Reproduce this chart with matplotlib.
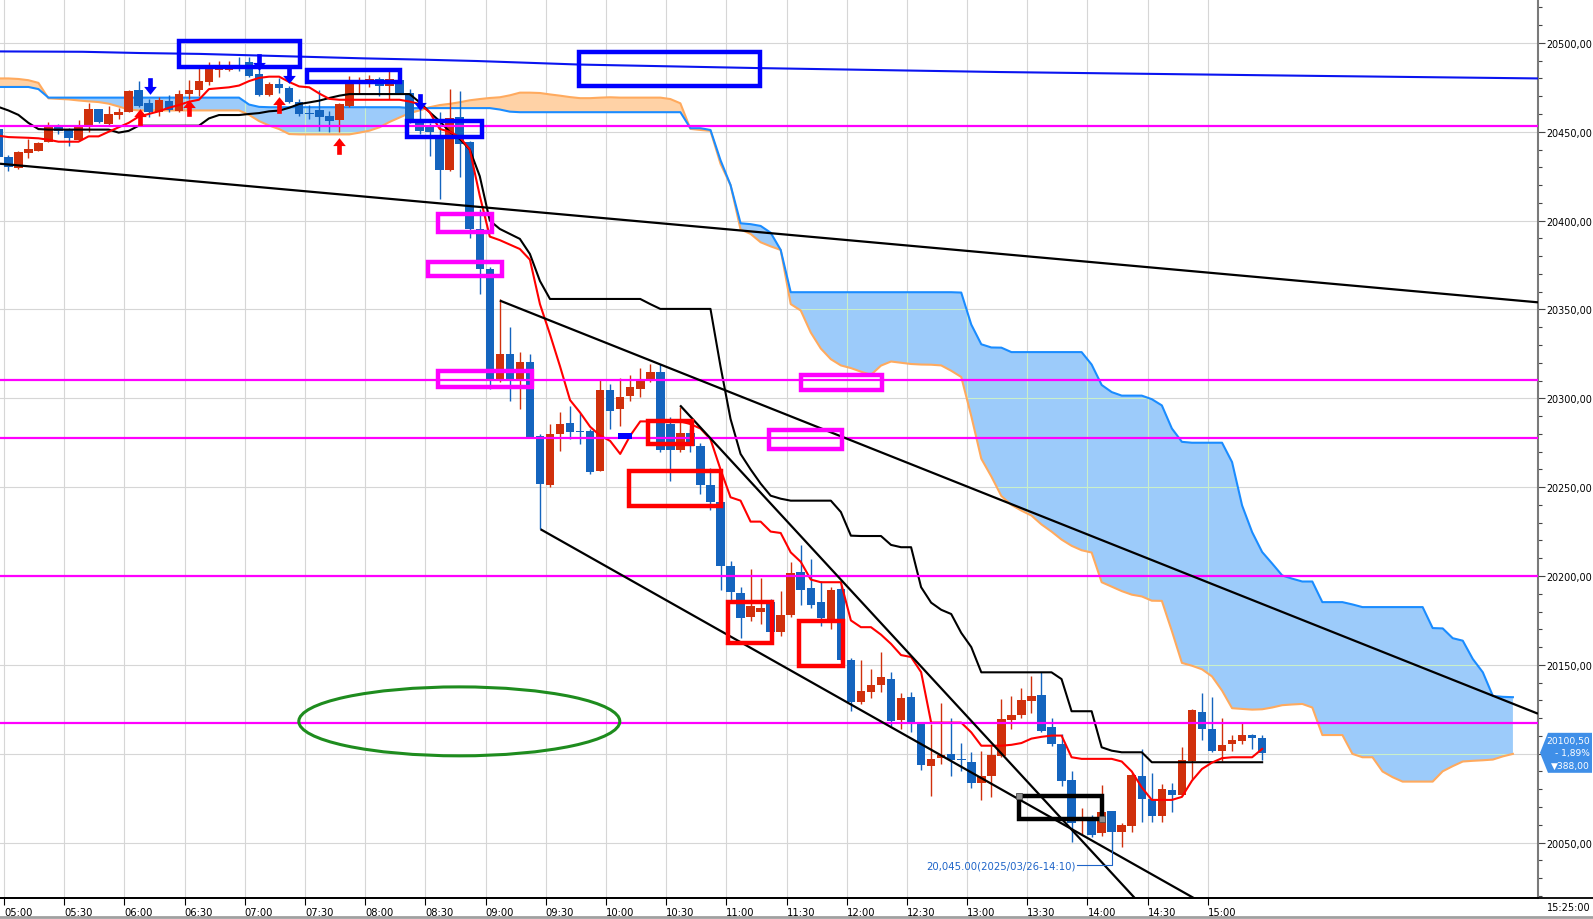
import numpy as np
import matplotlib
matplotlib.use("Agg")
import matplotlib.pyplot as plt
from matplotlib.patches import Rectangle, Ellipse, Polygon
from matplotlib.path import Path
from matplotlib.lines import Line2D

# ---------------- data (5-minute bars, index 0 = 05:00) ----------------
bar_index = list(range(-1, 126))
opens = [20451.6, 20436.0, 20429.5, 20438.0, 20439.3, 20444.4, 20452.5, 20451.6, 20445.4, 20453.4,
         20462.8, 20454.5, 20459.4, 20461.3, 20473.5, 20466.2, 20461.0, 20467.5, 20461.8, 20471.2,
         20473.5, 20478.2, 20484.9, 20485.0, 20487.0, 20489.0, 20482.5, 20470.8, 20476.9, 20474.5,
         20466.6, 20460.5, 20462.3, 20458.7, 20456.8, 20464.7, 20477.0, 20476.9, 20479.7, 20475.6,
         20479.3, 20471.8, 20457.2, 20453.4, 20446.9, 20428.7, 20458.1, 20444.1, 20395.3, 20372.8,
         20309.9, 20325.0, 20309.9, 20320.3, 20278.6, 20251.2, 20280.0, 20286.1, 20281.5, 20281.8,
         20259.3, 20304.9, 20294.0, 20301.5, 20305.3, 20310.0, 20315.0, 20285.5, 20271.0, 20280.5,
         20273.0, 20251.0, 20241.4, 20205.4, 20190.5, 20176.8, 20180.0, 20185.6, 20168.7, 20178.0,
         20202.5, 20193.2, 20185.6, 20174.0, 20192.7, 20152.9, 20128.9, 20134.6, 20138.7, 20142.1,
         20119.2, 20131.8, 20117.7, 20093.3, 20097.5, 20099.9, 20097.0, 20095.2, 20083.5, 20087.6,
         20098.9, 20119.2, 20121.6, 20129.4, 20133.1, 20114.9, 20105.5, 20085.2, 20062.0, 20062.3,
         20055.4, 20067.6, 20056.2, 20059.3, 20087.6, 20074.5, 20065.1, 20079.6, 20076.6, 20096.0,
         20123.5, 20114.1, 20101.7, 20105.5, 20107.0, 20110.5, 20108.6]
highs = [20454.0, 20437.0, 20439.0, 20446.0, 20444.0, 20455.7, 20454.4, 20452.0, 20456.6, 20466.2,
         20463.0, 20464.3, 20463.2, 20473.5, 20478.7, 20468.4, 20469.4, 20470.7, 20473.7, 20479.3,
         20485.7, 20489.0, 20490.0, 20490.0, 20492.0, 20492.0, 20488.0, 20478.0, 20480.0, 20476.0,
         20468.4, 20465.0, 20473.7, 20461.9, 20466.0, 20481.5, 20481.0, 20482.0, 20481.0, 20485.7,
         20482.0, 20474.0, 20463.8, 20455.0, 20461.0, 20474.0, 20473.1, 20445.0, 20406.5, 20374.0,
         20355.9, 20340.0, 20325.9, 20324.9, 20280.0, 20285.5, 20292.1, 20295.9, 20292.0, 20283.0,
         20310.9, 20308.0, 20311.2, 20313.1, 20316.9, 20319.3, 20319.3, 20289.3, 20295.0, 20283.0,
         20275.0, 20260.6, 20242.0, 20208.6, 20193.7, 20204.0, 20198.7, 20187.0, 20191.7, 20207.8,
         20217.5, 20209.6, 20197.4, 20194.0, 20197.4, 20154.0, 20152.9, 20147.7, 20157.1, 20146.2,
         20134.2, 20134.6, 20118.0, 20116.8, 20128.6, 20120.0, 20106.0, 20100.8, 20101.7, 20104.5,
         20131.0, 20132.3, 20136.8, 20144.0, 20145.8, 20120.0, 20111.1, 20090.0, 20069.3, 20065.6,
         20082.4, 20068.0, 20061.0, 20089.0, 20102.7, 20089.2, 20083.0, 20083.5, 20103.6, 20125.2,
         20134.2, 20131.8, 20120.0, 20110.5, 20117.3, 20111.0, 20110.5]
lows = [20433.0, 20428.0, 20429.0, 20435.0, 20439.0, 20444.0, 20448.7, 20441.8, 20445.0, 20449.7,
        20455.0, 20454.0, 20457.2, 20461.0, 20464.0, 20458.1, 20458.7, 20461.0, 20461.0, 20468.4,
        20470.3, 20476.3, 20481.0, 20484.0, 20484.0, 20481.0, 20470.0, 20470.0, 20471.8, 20466.0,
        20459.0, 20457.0, 20450.6, 20449.7, 20449.7, 20464.0, 20471.0, 20475.0, 20470.3, 20468.4,
        20471.0, 20455.0, 20449.0, 20436.5, 20412.2, 20428.0, 20424.4, 20390.0, 20358.7, 20305.3,
        20309.0, 20298.7, 20294.0, 20278.0, 20226.5, 20250.0, 20270.5, 20277.0, 20274.3, 20257.4,
        20259.0, 20282.7, 20284.6, 20298.7, 20300.6, 20309.0, 20270.0, 20253.6, 20270.0, 20270.0,
        20246.0, 20237.3, 20192.3, 20186.0, 20165.0, 20174.9, 20173.0, 20167.0, 20166.0, 20177.0,
        20183.7, 20181.8, 20172.0, 20170.0, 20152.0, 20124.2, 20128.0, 20131.2, 20134.6, 20115.8,
        20114.0, 20112.4, 20091.1, 20076.0, 20094.2, 20087.3, 20090.5, 20080.5, 20074.1, 20075.5,
        20098.0, 20113.9, 20120.0, 20123.1, 20112.0, 20104.2, 20082.0, 20050.2, 20054.8, 20053.0,
        20053.9, 20045.0, 20047.3, 20056.0, 20061.6, 20061.6, 20061.6, 20067.4, 20076.0, 20085.8,
        20107.5, 20100.8, 20096.0, 20101.7, 20105.5, 20102.6, 20096.7]
closes = [20436.0, 20430.0, 20438.4, 20440.3, 20443.5, 20452.5, 20450.6, 20446.7, 20453.4, 20462.8,
          20455.3, 20460.0, 20461.0, 20472.9, 20464.7, 20461.3, 20467.9, 20462.3, 20471.2, 20473.5,
          20478.4, 20485.3, 20485.7, 20486.0, 20486.0, 20481.5, 20470.8, 20476.9, 20474.5, 20466.6,
          20460.0, 20460.0, 20458.1, 20456.2, 20465.6, 20477.9, 20478.0, 20479.7, 20475.9, 20479.7,
          20471.8, 20456.8, 20450.6, 20450.0, 20428.7, 20457.6, 20443.1, 20395.3, 20372.8, 20309.9,
          20325.0, 20309.9, 20320.3, 20278.1, 20251.8, 20280.0, 20285.5, 20281.2, 20281.0, 20258.7,
          20304.9, 20293.0, 20300.6, 20306.2, 20310.0, 20315.0, 20271.0, 20271.0, 20280.5, 20273.4,
          20251.0, 20241.4, 20205.4, 20190.8, 20176.2, 20183.3, 20182.0, 20168.7, 20178.0, 20201.7,
          20192.3, 20183.7, 20176.2, 20192.3, 20152.9, 20128.9, 20135.1, 20138.7, 20143.0, 20118.6,
          20131.2, 20118.0, 20093.7, 20097.1, 20099.3, 20096.7, 20096.5, 20083.5, 20087.6, 20099.3,
          20119.6, 20121.8, 20130.5, 20132.7, 20113.0, 20105.5, 20084.8, 20061.0, 20062.5, 20054.4,
          20067.4, 20056.2, 20060.0, 20088.0, 20074.5, 20065.1, 20080.2, 20077.0, 20096.2, 20124.4,
          20114.1, 20101.7, 20104.9, 20107.5, 20110.5, 20108.6, 20100.5]
tenkan = [20447.8, 20447.0, 20446.8, 20446.6, 20446.3, 20445.5, 20444.4, 20444.4, 20444.4, 20447.4,
          20447.4, 20450.0, 20452.5, 20455.0, 20458.5, 20460.0, 20461.5, 20463.5, 20465.0, 20466.9,
          20468.0, 20474.0, 20474.5, 20475.0, 20476.0, 20478.5, 20480.3, 20481.0, 20481.0, 20478.0,
          20475.5, 20475.0, 20471.5, 20468.5, 20468.0, 20468.0, 20468.0, 20468.0, 20468.0, 20468.0,
          20468.0, 20467.0, 20465.6, 20461.0, 20451.6, 20450.0, 20447.0, 20440.0, 20414.0, 20391.0,
          20389.0, 20386.5, 20384.0, 20378.0, 20353.0, 20336.0, 20318.0, 20299.0, 20292.0, 20284.0,
          20279.0, 20276.0, 20268.7, 20279.0, 20287.0, 20287.0, 20287.0, 20287.0, 20287.0, 20285.5,
          20283.0, 20277.0, 20260.0, 20244.3, 20242.4, 20230.6, 20230.6, 20225.0, 20224.2, 20213.3,
          20208.0, 20198.0, 20196.5, 20196.5, 20196.5, 20175.0, 20171.2, 20171.2, 20167.0, 20161.8,
          20155.5, 20154.4, 20145.9, 20117.5, 20117.5, 20117.5, 20117.5, 20112.0, 20104.5, 20104.5,
          20104.5, 20105.0, 20106.0, 20108.5, 20109.5, 20110.2, 20110.2, 20098.0, 20097.1, 20097.1,
          20097.1, 20097.1, 20095.6, 20090.0, 20081.0, 20074.0, 20074.0, 20074.0, 20075.7, 20084.8,
          20091.4, 20095.0, 20097.5, 20098.0, 20098.0, 20098.0, 20102.7]
kijun = [20464.0, 20462.0, 20459.5, 20455.0, 20451.5, 20451.2, 20451.2, 20451.2, 20451.2, 20451.2,
         20451.2, 20451.2, 20449.5, 20450.5, 20453.4, 20453.4, 20453.4, 20453.4, 20453.4, 20453.4,
         20453.4, 20457.5, 20459.4, 20459.4, 20459.4, 20460.0, 20460.5, 20461.5, 20461.9, 20463.5,
         20465.6, 20466.5, 20467.5, 20469.0, 20470.3, 20471.2, 20471.2, 20471.2, 20471.2, 20471.2,
         20471.2, 20471.2, 20466.6, 20461.0, 20456.0, 20450.0, 20446.0, 20440.0, 20425.0, 20400.0,
         20395.3, 20392.5, 20389.7, 20381.2, 20366.0, 20355.9, 20355.9, 20355.9, 20355.9, 20355.9,
         20355.9, 20355.9, 20355.9, 20355.9, 20355.9, 20353.0, 20350.3, 20350.3, 20350.3, 20350.3,
         20350.3, 20350.3, 20318.0, 20288.4, 20268.7, 20260.0, 20252.0, 20245.2, 20243.5, 20242.4,
         20242.4, 20242.4, 20242.4, 20242.4, 20236.0, 20222.7, 20222.5, 20222.5, 20222.5, 20217.5,
         20216.2, 20216.2, 20193.7, 20185.0, 20181.0, 20178.6, 20168.0, 20160.0, 20145.8, 20145.8,
         20145.8, 20145.8, 20145.8, 20145.8, 20145.8, 20145.8, 20142.0, 20123.9, 20123.9, 20123.9,
         20103.6, 20101.7, 20100.8, 20100.8, 20100.8, 20095.2, 20095.2, 20095.2, 20095.2, 20095.2,
         20095.2, 20095.2, 20095.2, 20095.2, 20095.2, 20095.2, 20095.2]
span_index = list(range(-1, 151))
span_a = [20475.2, 20475.2, 20475.2, 20475.2, 20474.0, 20469.2, 20469.2, 20469.2, 20469.2, 20469.2,
          20469.2, 20469.2, 20469.2, 20469.2, 20469.2, 20469.2, 20469.2, 20469.2, 20469.2, 20469.2,
          20469.2, 20469.2, 20469.2, 20469.2, 20469.2, 20465.3, 20464.0, 20463.8, 20463.8, 20463.8,
          20463.8, 20463.8, 20463.8, 20463.8, 20463.8, 20463.8, 20463.8, 20463.8, 20463.8, 20463.8,
          20463.8, 20463.3, 20463.3, 20463.3, 20463.3, 20463.3, 20463.3, 20463.3, 20463.3, 20463.3,
          20462.5, 20461.3, 20461.0, 20461.0, 20461.0, 20461.0, 20461.0, 20461.0, 20461.0, 20461.0,
          20461.0, 20461.0, 20461.0, 20461.0, 20461.0, 20461.0, 20461.0, 20461.0, 20461.0, 20452.0,
          20452.0, 20451.0, 20434.0, 20420.0, 20398.5, 20398.0, 20397.0, 20393.2, 20383.5, 20359.7,
          20359.7, 20359.7, 20359.7, 20359.7, 20359.7, 20359.7, 20359.7, 20359.7, 20359.7, 20359.7,
          20359.7, 20359.7, 20359.7, 20359.7, 20359.7, 20359.7, 20359.5, 20341.5, 20330.4, 20328.6,
          20328.5, 20326.0, 20326.0, 20326.0, 20326.0, 20326.0, 20326.0, 20326.0, 20326.0, 20319.0,
          20307.5, 20303.5, 20301.5, 20301.5, 20301.5, 20299.5, 20296.0, 20283.0, 20275.5, 20275.0,
          20275.0, 20275.0, 20275.0, 20264.1, 20239.7, 20224.7, 20213.5, 20207.0, 20200.3, 20198.5,
          20196.9, 20196.9, 20185.3, 20185.3, 20185.3, 20184.0, 20182.5, 20182.5, 20182.5, 20182.5,
          20182.5, 20182.5, 20182.5, 20170.7, 20170.5, 20165.0, 20163.6, 20153.3, 20145.8, 20132.5,
          20132.0, 20131.8]
span_b = [20480.0, 20480.0, 20479.7, 20479.0, 20477.5, 20468.8, 20468.5, 20468.2, 20467.6, 20467.1,
          20466.7, 20465.8, 20464.2, 20462.5, 20462.0, 20462.0, 20462.0, 20462.0, 20462.0, 20462.0,
          20462.0, 20462.0, 20462.0, 20462.0, 20462.0, 20459.5, 20456.0, 20453.5, 20451.5, 20448.7,
          20448.5, 20448.5, 20448.5, 20448.5, 20448.5, 20448.5, 20449.5, 20450.6, 20452.5, 20455.5,
          20458.0, 20460.5, 20462.0, 20463.8, 20465.0, 20465.7, 20466.6, 20467.7, 20468.4, 20469.0,
          20469.4, 20470.5, 20472.0, 20472.0, 20471.8, 20471.0, 20470.3, 20469.5, 20468.9, 20468.9,
          20469.2, 20469.4, 20469.2, 20469.2, 20469.2, 20469.2, 20469.2, 20468.4, 20466.0, 20451.6,
          20451.0, 20450.5, 20432.0, 20420.0, 20395.0, 20392.5, 20387.8, 20385.5, 20383.5, 20353.0,
          20349.4, 20337.0, 20328.0, 20322.0, 20318.5, 20317.0, 20315.0, 20313.2, 20318.4, 20320.7,
          20320.0, 20319.3, 20319.0, 20318.9, 20318.5, 20315.5, 20312.0, 20290.0, 20266.0, 20256.0,
          20245.0, 20240.0, 20236.8, 20234.0, 20229.0, 20225.0, 20220.5, 20217.0, 20214.5, 20213.2,
          20196.5, 20194.0, 20191.5, 20189.5, 20188.5, 20186.1, 20186.0, 20169.0, 20151.1, 20149.5,
          20147.5, 20143.5, 20135.5, 20125.6, 20125.2, 20124.8, 20125.0, 20126.0, 20127.3, 20127.7,
          20128.0, 20126.0, 20110.5, 20110.5, 20110.5, 20099.9, 20098.0, 20098.0, 20090.0, 20086.8,
          20084.3, 20084.3, 20084.3, 20084.3, 20090.1, 20093.0, 20095.6, 20096.0, 20096.3, 20096.7,
          20098.5, 20099.9]

# long-term (blue) average line
ma_x = [-0.83, 7.4, 13.1, 19.1, 35.4, 41.1, 46.7, 57.0, 75.0, 98.9, 130.8, 152.5]
ma_y = [20495.2, 20495.0, 20494.3, 20493.8, 20491.3, 20490.6, 20489.8, 20487.8, 20485.8, 20483.6, 20481.4, 20480.0]

# horizontal levels
levels = [20453.0, 20310.5, 20277.5, 20200.0, 20117.0]

# trend lines (x in bar index, y in price)
trend_lines = [
    ([-0.83, 152.5], [20432.0, 20354.0]),
    ([49.0, 152.5], [20355.0, 20122.5]),
    ([53.06, 120.0], [20226.3, 20013.0]),
    ([66.97, 113.0], [20296.0, 20014.5]),
]

# boxes: (x0, x1, y0, y1, color)
boxes = [
    (17.0, 29.05, 20486.4, 20501.2, '#0000ff'),
    (29.81, 39.05, 20478.2, 20484.9, '#0000ff'),
    (39.78, 47.2, 20446.9, 20456.2, '#0000ff'),
    (56.9, 74.9, 20475.5, 20495.0, '#0000ff'),
    (42.87, 48.19, 20393.4, 20403.7, '#ff00ff'),
    (41.87, 49.19, 20368.7, 20376.5, '#ff00ff'),
    (42.87, 52.18, 20306.2, 20315.2, '#ff00ff'),
    (79.0, 87.09, 20304.6, 20313.2, '#ff00ff'),
    (75.84, 83.12, 20271.4, 20282.3, '#ff00ff'),
    (63.81, 68.14, 20274.3, 20287.4, '#ff0000'),
    (61.87, 71.09, 20239.6, 20259.3, '#ff0000'),
    (71.78, 76.11, 20162.3, 20185.6, '#ff0000'),
    (78.86, 83.19, 20149.5, 20174.9, '#ff0000'),
    (100.8, 109.07, 20063.0, 20076.4, '#000000'),
]

# signal arrows: (bar, centre price)
down_arrows = [(14.1, 20475.6), (25.0, 20489.1), (28.0, 20482.0), (41.0, 20467.0)]
up_arrows = [(13.1, 20458.1), (18.0, 20463.2), (27.0, 20465.0), (33.0, 20442.0)]

tick_minutes = list(range(0, 601, 30))
tick_labels = ['05:00', '05:30', '06:00', '06:30', '07:00', '07:30', '08:00', '08:30', '09:00',
               '09:30', '10:00', '10:30', '11:00', '11:30', '12:00', '12:30', '13:00', '13:30',
               '14:00', '14:30', '15:00']

low_label = '20,045.00(2025/03/26-14:10)'
price_box_lines = ['20100,50', '- 1,89%', '\u25bc388,00']

# ---------------- styles ----------------
BULL = '#d0300c'
BEAR = '#1464be'
GRID = '#d6d6d6'
W, H = 1593, 920

fig = plt.figure(figsize=(W / 100, H / 100), dpi=100)
fig.patch.set_facecolor('white')
ax = fig.add_axes([0.0, 21 / H, 1538 / W, 899 / H])
ax.set_xlim(-0.83, 152.5)
ax.set_ylim(20018.8, 20524.7)

xpos = [m / 5 - 0.42 for m in tick_minutes]
ypos = list(range(20050, 20501, 50))

# grid (below cloud)
for x in xpos:
    ax.axvline(x, color=GRID, lw=0.8, zorder=0.5)
for y in ypos:
    ax.axhline(y, color=GRID, lw=0.8, zorder=0.5)

# cloud
sx = np.array(span_index, dtype=float)
sa = np.array(span_a)
sb = np.array(span_b)
blue_fill = ax.fill_between(sx, sa, sb, where=sa >= sb, interpolate=True,
                            color='#9ccbfa', lw=0, zorder=1)
ax.fill_between(sx, sa, sb, where=sa < sb, interpolate=True,
                color='#ffd2a6', lw=0, zorder=1)
# pale grid lines seen through the blue cloud
paths = blue_fill.get_paths()
if paths:
    cpath = Path.make_compound_path(*paths)
    for x in xpos:
        ln = ax.axvline(x, color='#c9efc9', lw=0.8, zorder=1.1)
        ln.set_clip_path(cpath, ax.transData)
    for y in ypos:
        ln = ax.axhline(y, color='#c9efc9', lw=0.8, zorder=1.1)
        ln.set_clip_path(cpath, ax.transData)
ax.plot(sx, sb, color='#ffaa5e', lw=1.5, zorder=1.3)
ax.plot(sx, sa, color='#1a8cff', lw=1.5, zorder=1.4)

# candles
bi = np.array(bar_index, dtype=float)
o = np.array(opens); h = np.array(highs); l = np.array(lows); c = np.array(closes)
cols = np.where(c >= o, BULL, BEAR)
ax.vlines(bi, l, h, colors=cols, lw=1.0, zorder=2)
ax.bar(bi, np.maximum(np.abs(c - o), 0.7), width=0.85, bottom=np.minimum(o, c),
       color=cols, lw=0, zorder=2.1)

# conversion / base lines
ax.plot(bi, kijun, color='black', lw=1.5, zorder=3)
ax.plot(bi, tenkan, color='#ff0000', lw=1.5, zorder=3.1)

# long blue average
ax.plot(ma_x, ma_y, color='#0a14f0', lw=1.5, zorder=3.2)

# horizontal levels
for lv in levels:
    ax.axhline(lv, color='#ff00ff', lw=1.6, zorder=3.5)

# trend lines
for xs, ys in trend_lines:
    ax.plot(xs, ys, color='black', lw=1.6, zorder=4, solid_capstyle='butt')

# boxes
for x0, x1, y0, y1, col in boxes:
    ax.add_patch(Rectangle((x0, y0), x1 - x0, y1 - y0, fill=False, edgecolor=col,
                           lw=3.2, zorder=5, joinstyle='miter'))
# selection handles on the black box
bx = boxes[-1]
ax.plot([bx[0], bx[1]], [bx[3], bx[2]], ls='none', marker='s', ms=4,
        mfc='#909090', mec='#505050', mew=0.6, zorder=5.5)

# small blue marker rectangle
ax.add_patch(Rectangle((60.82, 20277.1), 1.34, 3.2, facecolor='#0000ff',
                       edgecolor='none', zorder=5))

# green ellipse
ax.add_patch(Ellipse((44.96, 20118.2), 32.0, 38.8, fill=False, edgecolor='#1e8c1e',
                     lw=2.2, zorder=5))

# arrows
down_path = Path([(-0.28, 1), (0.28, 1), (0.28, -0.05), (0.76, -0.05), (0, -1),
                  (-0.76, -0.05), (-0.28, -0.05), (-0.28, 1)],
                 [Path.MOVETO] + [Path.LINETO] * 6 + [Path.CLOSEPOLY])
up_path = Path([(x, -y) for x, y in down_path.vertices], down_path.codes)
for xk, yp in down_arrows:
    ax.plot([xk], [yp], ls='none', marker=down_path, ms=12, mfc='#0000ff', mec='none', zorder=6)
for xk, yp in up_arrows:
    ax.plot([xk], [yp], ls='none', marker=up_path, ms=12, mfc='#ff0000', mec='none', zorder=6)

# low annotation
low_i = int(np.argmin(l))
low_x = bi[low_i]
low_v = l[low_i]
y_txt = 20037.1
ax.text(106.4, y_txt, low_label, color='#1e64c8', fontsize=7.3, ha='right', va='center', zorder=6)
ax.plot([106.5, low_x, low_x], [y_txt, y_txt, low_v], color='#1e64c8', lw=0.8, zorder=6)

# axes styling
for sp in ['top', 'left']:
    ax.spines[sp].set_visible(False)
ax.spines['right'].set_color('#7a7a7a')
ax.spines['right'].set_linewidth(1.5)
ax.spines['bottom'].set_color('black')
ax.spines['bottom'].set_linewidth(1.3)

# price scale: the label under the current-price box is hidden by that box
ax.yaxis.tick_right()
ax.set_yticks(ypos)
ylabels = [f'{v:.2f}'.replace('.', ',') for v in ypos]
ylabels = ['' if v == 20100 else s for v, s in zip(ypos, ylabels)]
ax.set_yticklabels(ylabels, fontsize=6.9, family='DejaVu Sans')
ax.set_yticks(list(range(20020, 20521, 10)), minor=True)
ax.tick_params(axis='y', which='major', length=5, width=0.8, color='#444444', pad=1.0)
ax.tick_params(axis='y', which='minor', length=3, width=0.8, color='#444444')

ax.set_xticks(xpos)
ax.set_xticklabels(tick_labels, fontsize=7.2, ha='left')
ax.tick_params(axis='x', which='major', length=5, width=0.8, color='black', pad=1.5)

# extend bottom axis line across the price scale
fig.add_artist(Line2D([0, 1], [21 / H, 21 / H], color='black', lw=1.3, transform=fig.transFigure))
fig.add_artist(Line2D([0, 1], [2 / H, 2 / H], color='#a0a0a0', lw=2.0, transform=fig.transFigure))

# current time label
fig.text(1591 / W, (H - 908) / H, '15:25:00', fontsize=7.0, ha='right', va='center')

# current price box on the price scale
fig.canvas.draw()
y_disp = ax.transData.transform((0, closes[-1]))[1]
x_tip = 1540
box = Polygon([(x_tip, y_disp), (x_tip + 8, y_disp + 20), (W - 1, y_disp + 20),
               (W - 1, y_disp - 20), (x_tip + 8, y_disp - 20)], closed=True,
              facecolor='#3f8fe8', edgecolor='none', transform=None, zorder=10)
fig.add_artist(box)
for i, s in enumerate(price_box_lines):
    fig.text((W - 3) / W, (y_disp + 12.5 - 12.5 * i) / H, s, color='white', fontsize=6.6,
             ha='right', va='center', zorder=11)

fig.savefig('out.png', dpi=100, facecolor='white')
